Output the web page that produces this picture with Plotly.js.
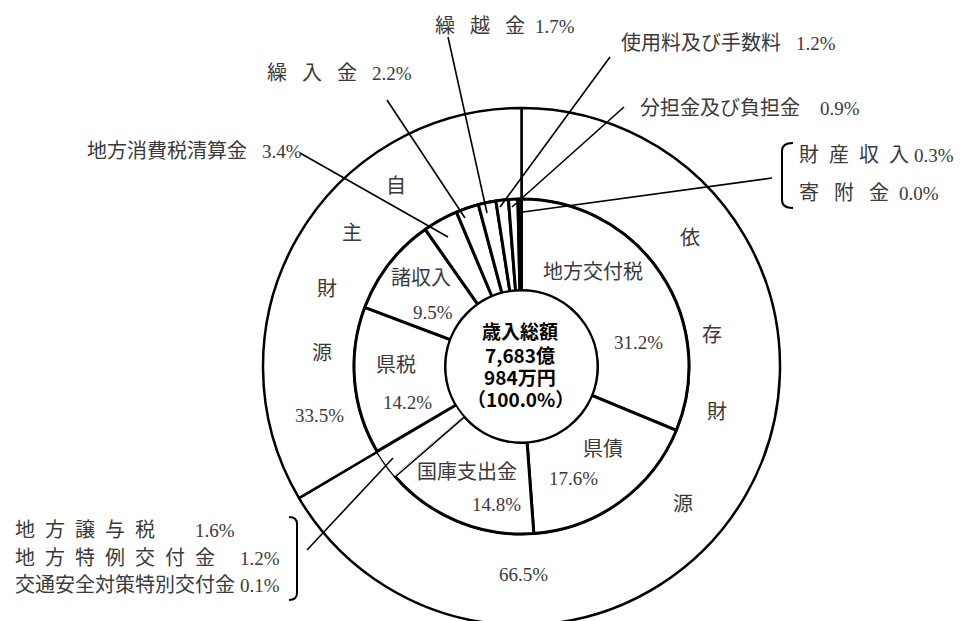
<!DOCTYPE html>
<html>
<head>
<meta charset="utf-8">
<script src="https://cdn.plot.ly/plotly-3.0.1.min.js"></script>
<style>
  html, body { margin: 0; padding: 0; background: #fff; }
  #wrap { width: 966px; height: 621px; overflow: hidden; }
  #chart { width: 966px; height: 630px; }
</style>
</head>
<body>
<div id="wrap"><div id="chart"></div></div>
<script>
// ---------------- data ----------------
const categories = ['地方交付税','県債','国庫支出金','交通安全対策特別交付金','地方特例交付金','地方譲与税',
                    '県税','諸収入','地方消費税清算金','繰入金','繰越金','使用料及び手数料','分担金及び負担金','財産収入','寄附金'];
const shares = [31.2, 17.6, 14.8, 0.1, 1.2, 1.6, 14.2, 9.5, 3.4, 2.2, 1.7, 1.2, 0.9, 0.3, 0.04];
const groups = ['依存財源', '自主財源'];
const groupShares = [66.5, 33.5];
const totalTitle = '歳入総額';
const totalAmount = ['7,683億', '984万円'];
const totalShare = [100.0];

// ---------------- geometry / styles ----------------
const W = 966, H = 630;
const CX = 521.5, CY = 366.5;       // pie centre in pixels (from top-left)
const R_OUT = 258.5, R_MID = 167.5, R_HOLE = 76;
const px = x => x / W;
const py = y => 1 - y / H;
const dom = r => ({x: [(CX - r) / W, (CX + r) / W], y: [(H - CY - r) / H, (H - CY + r) / H]});

const FONT = "'Liberation Serif', 'Noto Sans CJK JP', serif";
const TXT = '#3a3a3a';
const S10 = '\u2002', S15 = '\u2002 ', S20 = '\u3000';
const pct = v => '<span style="font-size:19px">' + v.toFixed(1) + '%</span>';
const shareOf = name => shares[categories.indexOf(name)];

// labels drawn inside the inner ring
const inLabels = {
  '地方交付税': {name: [593, 272], pct: [638, 343]},
  '県債':       {name: [603, 449], pct: [573, 478]},
  '国庫支出金': {name: [467, 472], pct: [497, 504]},
  '県税':       {name: [396, 365], pct: [407, 403]},
  '諸収入':     {name: [421, 278], pct: [433, 312]}
};
// labels drawn in the outer ring (one character each)
const outLabels = {
  '依存財源': {chars: [[690, 238], [712, 335], [717, 412], [683, 504]], pct: [523, 574]},
  '自主財源': {chars: [[396, 186], [352, 233], [327, 289], [322, 353]], pct: [319, 415]}
};
// labels outside with leader lines
const leaderLabels = [
  {cat: '繰越金',           x: 433, y: 26,  sep: S15, gap: S10, line: [448, 37, 487, 213]},
  {cat: '使用料及び手数料', x: 619, y: 43,  sep: '',  gap: S15, line: [610, 57, 500, 207]},
  {cat: '分担金及び負担金', x: 638, y: 108, sep: '',  gap: S20, line: [624, 107, 512, 207]},
  {cat: '繰入金',           x: 265, y: 73,  sep: S15, gap: S15, line: [387, 100, 465, 218]},
  {cat: '地方消費税清算金', x: 85,  y: 151, sep: '',  gap: S15, line: [300, 153, 448, 237]},
  {cat: '財産収入',         x: 797, y: 155, sep: S10, gap: ' '},
  {cat: '寄附金',           x: 797, y: 193, sep: S15, gap: S10},
  {cat: '地方譲与税',       x: 13,  y: 530, sep: S10, gap: S20 + S20},
  {cat: '地方特例交付金',   x: 13,  y: 558, sep: S10, gap: S20 + ' '},
  {cat: '交通安全対策特別交付金', x: 13, y: 585, sep: '', gap: ' '}
];
const groupLeaders = [[772, 178, 523, 212], [307, 550, 393, 458]];
const brackets = [
  'M 289 517 Q 297 517 297 524 L 297 593 Q 297 600 289 600',
  'M 793 143 Q 782 143 782 151 L 782 200 Q 782 208 793 208'
];

// ---------------- traces ----------------
const hidden = ['交通安全対策特別交付金', '地方特例交付金', '地方譲与税'];
const traces = [
  {
    type: 'pie', labels: groups, values: groupShares, sort: false, direction: 'clockwise', rotation: 0,
    hole: R_MID / R_OUT, domain: dom(R_OUT), textinfo: 'none', hoverinfo: 'skip',
    marker: {colors: groups.map(() => '#ffffff'), line: {color: '#000', width: 2.5}}
  },
  {
    type: 'pie', labels: categories, values: shares, sort: false, direction: 'clockwise', rotation: 0,
    hole: R_HOLE / R_MID, domain: dom(R_MID), textinfo: 'none', hoverinfo: 'skip',
    marker: {colors: categories.map(() => '#ffffff'),
             line: {color: '#000', width: categories.map(c => hidden.includes(c) ? 0 : 3)}}
  },
  {
    type: 'pie', labels: ['歳入総額'], values: totalShare, sort: false, domain: dom(R_HOLE),
    textinfo: 'none', hoverinfo: 'skip',
    marker: {colors: ['#ffffff'], line: {color: '#000', width: 2}}
  }
];

// ---------------- annotations ----------------
const ann = [];
const addText = (text, x, y, opts) => ann.push(Object.assign({
  text: text, x: px(x), y: py(y), xref: 'paper', yref: 'paper', showarrow: false,
  xanchor: 'center', yanchor: 'middle', font: {family: FONT, size: 20, color: TXT}
}, opts || {}));

Object.keys(inLabels).forEach(name => {
  const p = inLabels[name];
  addText(name, p.name[0], p.name[1]);
  addText(pct(shareOf(name)), p.pct[0], p.pct[1]);
});
groups.forEach((g, i) => {
  const p = outLabels[g];
  g.split('').forEach((ch, k) => addText(ch, p.chars[k][0], p.chars[k][1]));
  addText(pct(groupShares[i]), p.pct[0], p.pct[1]);
});
leaderLabels.forEach(l => {
  addText(l.cat.split('').join(l.sep) + l.gap + pct(shareOf(l.cat)), l.x, l.y, {xanchor: 'left'});
});
const centreLines = [totalTitle].concat(totalAmount).concat(['（' + totalShare[0].toFixed(1) + '%）']);
const centreY = [330, 354, 376, 398];
centreLines.forEach((t, i) => addText('<b>' + t + '</b>', 520, centreY[i],
  {font: {family: "'Noto Sans CJK JP', sans-serif", size: 19, color: '#000'}, borderpad: 0}));

// ---------------- shapes (leader lines, brackets) ----------------
const shapes = [];
leaderLabels.filter(l => l.line).map(l => l.line).concat(groupLeaders).forEach(s => {
  shapes.push({type: 'line', xref: 'paper', yref: 'paper', x0: px(s[0]), y0: py(s[1]), x1: px(s[2]), y1: py(s[3]),
               line: {color: '#000', width: 1.6}});
});
brackets.forEach(b => {
  const path = b.replace(/(\d+(?:\.\d+)?) (\d+(?:\.\d+)?)/g, (m, a, c) => px(+a).toFixed(5) + ',' + py(+c).toFixed(5));
  shapes.push({type: 'path', xref: 'paper', yref: 'paper', path: path, line: {color: '#000', width: 2}});
});

const layout = {
  width: W, height: H, margin: {l: 0, r: 0, t: 0, b: 0}, showlegend: false,
  paper_bgcolor: '#fff', plot_bgcolor: '#fff', annotations: ann, shapes: shapes
};
Plotly.newPlot('chart', traces, layout, {staticPlot: true, displayModeBar: false});
</script>
</body>
</html>
